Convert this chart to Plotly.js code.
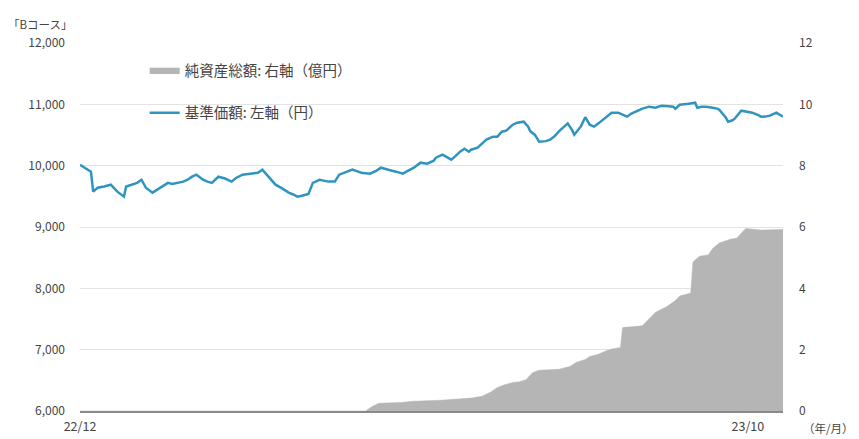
<!DOCTYPE html>
<html>
<head>
<meta charset="utf-8">
<script src="https://cdn.plot.ly/plotly-3.0.1.min.js"></script>
<style>html,body{margin:0;padding:0;background:#fff;}#chart{width:859px;height:439px;}</style>
</head>
<body>
<div id="chart"></div>
<script>
// 基準価額 (円), left axis
const navDates = [
'2022-12-01','2022-12-03','2022-12-05','2022-12-06','2022-12-07','2022-12-09','2022-12-12','2022-12-15','2022-12-18','2022-12-21',
'2022-12-22','2022-12-25','2022-12-27','2022-12-29','2022-12-31','2023-01-03','2023-01-06','2023-01-08','2023-01-10','2023-01-12',
'2023-01-15','2023-01-17','2023-01-19','2023-01-21','2023-01-23','2023-01-26','2023-01-28','2023-01-30','2023-02-02','2023-02-05',
'2023-02-08','2023-02-10','2023-02-13','2023-02-16','2023-02-20','2023-02-22','2023-02-25','2023-02-28','2023-03-03','2023-03-06',
'2023-03-08','2023-03-10','2023-03-12','2023-03-15','2023-03-17','2023-03-20','2023-03-24','2023-03-27','2023-03-29','2023-04-01',
'2023-04-04','2023-04-06','2023-04-08','2023-04-12','2023-04-15','2023-04-17','2023-04-20','2023-04-22','2023-04-25','2023-04-27',
'2023-04-29','2023-05-02','2023-05-05','2023-05-08','2023-05-11','2023-05-12','2023-05-15','2023-05-17','2023-05-19','2023-05-21',
'2023-05-23','2023-05-25','2023-05-27','2023-05-28','2023-05-31','2023-06-02','2023-06-04','2023-06-07','2023-06-09','2023-06-11',
'2023-06-13','2023-06-16','2023-06-18','2023-06-21','2023-06-23','2023-06-24','2023-06-26','2023-06-28','2023-07-01','2023-07-03',
'2023-07-05','2023-07-07','2023-07-10','2023-07-11','2023-07-13','2023-07-14','2023-07-17','2023-07-19','2023-07-21','2023-07-23',
'2023-07-25','2023-07-27','2023-07-29','2023-07-31','2023-08-03','2023-08-05','2023-08-07','2023-08-09','2023-08-12','2023-08-14',
'2023-08-17','2023-08-20','2023-08-22','2023-08-23','2023-08-26','2023-08-28','2023-08-29','2023-08-31','2023-09-04','2023-09-07',
'2023-09-08','2023-09-10','2023-09-12','2023-09-14','2023-09-15','2023-09-17','2023-09-18','2023-09-21','2023-09-22','2023-09-24',
'2023-09-25','2023-09-28','2023-10-01','2023-10-03','2023-10-06','2023-10-07','2023-10-09','2023-10-11','2023-10-14','2023-10-17'
];
const navValues = [
10016,9970,9935,9900,9576,9640,9660,9690,9576,9495,
9660,9690,9720,9770,9640,9560,9625,9680,9720,9700,
9720,9740,9770,9820,9853,9770,9740,9720,9820,9790,
9740,9800,9853,9870,9885,9935,9805,9690,9630,9560,
9530,9495,9510,9540,9720,9770,9740,9740,9853,9900,
9935,9910,9885,9870,9920,9967,9945,9918,9890,9870,
9910,9967,10049,10033,10080,10130,10180,10140,10098,10160,
10228,10277,10228,10260,10293,10360,10424,10473,10473,10554,
10570,10668,10700,10717,10636,10560,10505,10391,10400,10424,
10480,10560,10668,10690,10580,10505,10640,10790,10668,10636,
10690,10750,10810,10864,10864,10830,10799,10850,10900,10930,
10962,10945,10970,10978,10970,10962,10929,10994,11010,11027,
10945,10960,10962,10955,10945,10930,10913,10782,10717,10740,
10766,10897,10880,10864,10820,10799,10800,10815,10864,10800
];

// 純資産総額 (億円), right axis
const aumDates = [
'2022-12-01','2023-04-10','2023-04-13','2023-04-16','2023-04-26','2023-05-02','2023-05-14','2023-05-22','2023-05-28','2023-06-02',
'2023-06-06','2023-06-09','2023-06-12','2023-06-16','2023-06-19','2023-06-22','2023-06-25','2023-06-28','2023-07-07','2023-07-12',
'2023-07-15','2023-07-19','2023-07-21','2023-07-25','2023-07-28','2023-07-31','2023-08-04','2023-08-05','2023-08-14','2023-08-17',
'2023-08-20','2023-08-25','2023-08-29','2023-08-31','2023-09-05','2023-09-06','2023-09-09','2023-09-13','2023-09-15','2023-09-18',
'2023-09-23','2023-09-26','2023-09-28','2023-09-30','2023-10-07','2023-10-17'
];
const aumValues = [
0,0,0.15,0.25,0.28,0.32,0.35,0.38,0.42,0.48,
0.62,0.77,0.85,0.93,0.95,1.02,1.25,1.33,1.36,1.45,
1.59,1.68,1.78,1.85,1.95,2.02,2.07,2.72,2.78,3.0,
3.22,3.4,3.6,3.75,3.85,4.86,5.05,5.09,5.3,5.48,
5.6,5.64,5.8,5.95,5.9,5.92
];

const xTickVals = ['2022-12-01','2023-10-01'];
const xTickText = ['22/12','23/10'];
const leftTicks = [6000,7000,8000,9000,10000,11000,12000];
const rightTicks = [0,2,4,6,8,10,12];

const FONT = '"Noto Sans CJK JP", "Noto Sans", sans-serif';

const traces = [
  {
    x: aumDates, y: aumValues, yaxis: 'y2', type: 'scatter', mode: 'lines',
    name: '純資産総額: 右軸（億円）', legendgroup: 'a',
    fill: 'tozeroy', fillcolor: '#b5b5b5', line: {color: '#b5b5b5', width: 0.5, shape: 'linear'},
    hoverinfo: 'skip'
  },
  {
    x: navDates, y: navValues, yaxis: 'y', type: 'scatter', mode: 'lines',
    name: '基準価額: 左軸（円）', legendgroup: 'b',
    line: {color: '#2f95c0', width: 2.5}
  }
];

const layout = {
  width: 859, height: 439,
  margin: {l: 80, r: 76, t: 43, b: 28},
  paper_bgcolor: '#fff', plot_bgcolor: '#fff',
  font: {family: FONT, size: 12, color: '#444'},
  showlegend: true,
  legend: {
    x: 0.092, y: 0.97, xanchor: 'left', yanchor: 'top',
    bgcolor: 'rgba(0,0,0,0)', font: {family: FONT, size: 14.5, color: '#444'},
    tracegroupgap: 21, itemwidth: 30, traceorder: 'grouped'
  },
  xaxis: {
    type: 'date', range: ['2022-12-01','2023-10-17'],
    tickmode: 'array', tickvals: xTickVals, ticktext: xTickText,
    showgrid: false, zeroline: false, showline: true, linecolor: '#8a8a8a', linewidth: 1.5,
    ticks: '', ticklabelstandoff: 3, tickfont: {size: 12.5, color: '#444'}
  },
  yaxis: {
    range: [6000, 12000], tickmode: 'array', tickvals: leftTicks, tickformat: ',d',
    showgrid: true, gridcolor: '#e3e3e3', gridwidth: 1, zeroline: false, showline: false,
    ticks: '', ticklabelstandoff: 14, tickfont: {size: 12, color: '#444'}
  },
  yaxis2: {
    range: [0, 12], overlaying: 'y', side: 'right', tickmode: 'array', tickvals: rightTicks,
    showgrid: false, zeroline: false, showline: false,
    ticks: '', ticklabelstandoff: 15, tickfont: {size: 12, color: '#444'}
  },
  annotations: [
    {xref: 'paper', yref: 'paper', x: -0.105, y: 1.052, xanchor: 'left', yanchor: 'middle',
     text: '「Bコース」', showarrow: false, font: {family: FONT, size: 11.5, color: '#444'}},
    {xref: 'paper', yref: 'paper', x: 1.026, y: -0.046, xanchor: 'left', yanchor: 'middle',
     text: '（年/月）', showarrow: false, font: {family: FONT, size: 11.5, color: '#444'}}
  ]
};

Plotly.newPlot('chart', traces, layout, {displayModeBar: false, staticPlot: true});
</script>
</body>
</html>
